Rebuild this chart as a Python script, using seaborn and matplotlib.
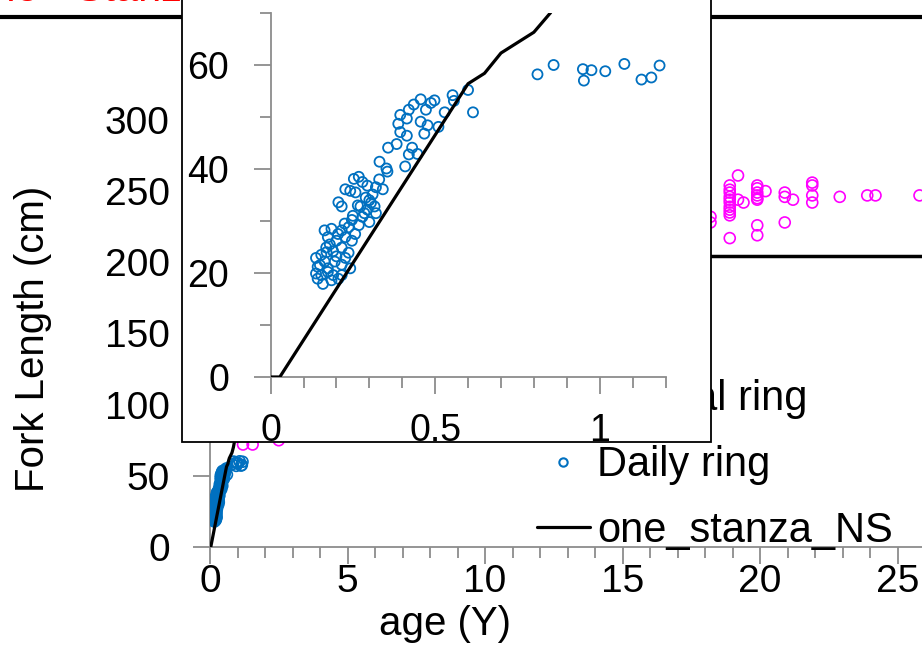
import numpy as np
import pandas as pd
import seaborn as sns
import matplotlib.pyplot as plt
from matplotlib.lines import Line2D
from matplotlib.patches import Rectangle
from matplotlib.ticker import MultipleLocator

sns.set_style("white")
plt.rcParams['font.family'] = ['Liberation Sans', 'DejaVu Sans']
plt.rcParams['text.color'] = 'black'
plt.rcParams['axes.labelcolor'] = 'black'

BLUE = "#0070C0"
MAG = "#FF00FF"
GRAY = "#8C8C8C"

# daily ring readings (age in years, fork length cm)
daily_age = [0.811, 0.860, 0.949, 0.952, 0.975, 1.017, 1.075, 1.127, 1.157, 1.182,
             0.600, 0.615, 0.553, 0.557, 0.529, 0.510, 0.498, 0.487, 0.456, 0.472,
             0.435, 0.420, 0.394, 0.414, 0.388, 0.456, 0.477, 0.467, 0.394, 0.414,
             0.383, 0.357, 0.430, 0.446, 0.420, 0.409, 0.331, 0.352, 0.355,
             0.268, 0.253, 0.227, 0.206, 0.216, 0.242, 0.258, 0.279, 0.294, 0.320,
             0.341, 0.310, 0.289, 0.305, 0.273, 0.294, 0.279, 0.300, 0.268, 0.247,
             0.237, 0.216, 0.257, 0.320, 0.316,
             0.164, 0.185, 0.174, 0.200, 0.227, 0.247, 0.169, 0.190, 0.216, 0.237,
             0.154, 0.138, 0.164, 0.195, 0.216, 0.143, 0.138, 0.154, 0.174, 0.190,
             0.216, 0.242, 0.143, 0.159, 0.185, 0.206, 0.174, 0.227, 0.200,
             0.180, 0.205, 0.225, 0.250, 0.265, 0.285, 0.300, 0.330, 0.150, 0.170]
daily_len = [58.2, 60.0, 59.2, 57.0, 59.0, 58.8, 60.2, 57.2, 57.6, 59.9,
             55.2, 50.9, 54.2, 53.1, 50.9, 48.1, 53.2, 52.7, 53.4, 51.4,
             52.4, 51.4, 50.4, 49.7, 48.7, 49.1, 48.4, 46.8, 47.1, 46.4,
             44.8, 44.1, 44.1, 42.9, 42.8, 40.5, 41.4, 40.1, 39.5,
             38.5, 38.1, 36.1, 33.6, 32.8, 35.8, 35.5, 37.5, 36.8, 36.5,
             36.1, 35.1, 34.5, 33.5, 32.8, 32.2, 30.8, 29.8, 29.2, 30.2,
             28.8, 28.2, 27.5, 31.5, 32.8,
             28.2, 28.5, 26.9, 26.2, 26.9, 26.2, 24.9, 24.2, 24.9, 23.9,
             23.5, 22.9, 22.2, 22.2, 21.6, 21.2, 19.9, 19.6, 20.2, 19.6,
             19.6, 20.9, 18.9, 17.9, 18.6, 18.9, 20.9, 22.9, 23.2,
             25.5, 27.5, 29.5, 31.0, 33.0, 31.5, 34.0, 38.0, 21.5, 24.0]

# annual ring readings
annual_age = [1.2, 1.55, 2.5, 18.2, 18.2,
              18.9, 18.9, 18.9, 18.9, 18.9, 18.9, 18.9, 18.9, 18.9, 18.9, 18.9,
              19.2, 19.2, 19.4,
              19.9, 19.9, 19.9, 19.9, 19.9, 19.9, 19.9, 19.9, 20.2,
              20.9, 20.9, 20.9, 21.2,
              21.9, 21.9, 21.9, 21.9,
              22.9, 23.9, 24.2, 25.8]
annual_len = [72, 72, 75, 232, 228,
              254, 251, 249, 246, 244, 242, 239, 237, 235, 233, 217,
              261, 244, 242,
              254, 252, 249, 247, 245, 244, 226, 219, 250,
              249, 246, 228, 244,
              256, 254, 247, 242,
              246, 247, 247, 247]

# one_stanza_NS curve
line_age = [0, 0.028, 0.6, 0.65, 0.7, 0.8, 0.85, 0.9, 1.0, 1.2]
line_len = [0, 0, 56.4, 58.4, 62.3, 66.3, 70.0, 75.0, 79.0, 86.0]

daily = pd.DataFrame({"age": daily_age, "fl": daily_len})
annual = pd.DataFrame({"age": annual_age, "fl": annual_len})
curve = pd.DataFrame({"age": line_age, "fl": line_len})

W, H = 922, 669
fig = plt.figure(figsize=(W / 100, H / 100), dpi=100)

# ---- main chart
ax = fig.add_axes([210 / W, 122 / H, 825 / W, 498.2 / H])
sns.scatterplot(data=annual, x="age", y="fl", ax=ax, s=62, facecolor="none",
                edgecolor=MAG, linewidth=1.2, zorder=3)
sns.scatterplot(data=daily, x="age", y="fl", ax=ax, s=62, facecolor="none",
                edgecolor=BLUE, linewidth=1.2, zorder=3)
sns.lineplot(data=curve, x="age", y="fl", ax=ax, color="black", linewidth=2.3,
             sort=False, estimator=None, zorder=4)
ax.set_xlim(0, 30)
ax.set_ylim(0, 350)
ax.set_yticks(np.arange(0, 301, 50))
ax.xaxis.set_major_locator(MultipleLocator(5))
ax.xaxis.set_minor_locator(MultipleLocator(1))
for s in ["top", "right"]:
    ax.spines[s].set_visible(False)
for s in ["left", "bottom"]:
    ax.spines[s].set_color(GRAY)
    ax.spines[s].set_linewidth(1.3)
ax.tick_params(axis="both", which="major", direction="out", length=12, width=1.3,
               color=GRAY, labelcolor="black", labelsize=28, left=True, bottom=True)
ax.tick_params(axis="x", which="minor", direction="out", length=8, width=1.3,
               color=GRAY, bottom=True)
ax.tick_params(axis="x", which="major", pad=0)
ax.tick_params(axis="y", which="major", pad=17)
ax.set_xlabel("")
ax.set_ylabel("")
fig.text(33 / W, 1 - 339 / H, "Fork Length (cm)", rotation=90, ha="center",
         va="center", fontsize=29)
fig.text(445 / W, 1 - 624 / H, "age (Y)", ha="center", va="center", fontsize=29)

handles = [Line2D([], [], marker="o", ls="none", mfc="none", mec=MAG, ms=6, mew=1.5),
           Line2D([], [], marker="o", ls="none", mfc="none", mec=BLUE, ms=6, mew=1.5),
           Line2D([], [], color="black", lw=2.3)]
ax.legend(handles, ["Annual ring", "Daily ring", "one_stanza_NS"], loc="lower left",
          bbox_to_anchor=(537 / W, 118 / H), bbox_transform=fig.transFigure,
          frameon=False, fontsize=30, handlelength=1.27, handletextpad=0.17,
          labelspacing=0.62, borderpad=0, borderaxespad=0)

# title (mostly cut off by the top edge, hidden behind the inset) and frame lines
fig.text(-40 / W, 1 - 1 / H, "One - Stanza model fitted to NS data set", ha="left",
         va="baseline", color="red", fontsize=30, zorder=1)
fig.add_artist(Line2D([0, 1], [1 - 17 / H, 1 - 17 / H], transform=fig.transFigure,
                      color="black", lw=3, zorder=1))
fig.add_artist(Line2D([500 / W, 1], [1 - 256 / H, 1 - 256 / H], transform=fig.transFigure,
                      color="black", lw=2.5, zorder=1))

# ---- inset
fig.add_artist(Rectangle((182 / W, 227 / H), 529 / W, 1.2, transform=fig.transFigure,
                         facecolor="white", edgecolor="black", lw=1.3, zorder=2))
ins = fig.add_axes([270.6 / W, 292 / H, 394.9 / W, 364 / H], zorder=3)
ins.patch.set_alpha(0)
sns.scatterplot(data=daily, x="age", y="fl", ax=ins, s=52, facecolor="none",
                edgecolor=BLUE, linewidth=1.3, zorder=3)
sns.lineplot(data=curve, x="age", y="fl", ax=ins, color="black", linewidth=2.3,
             sort=False, estimator=None, zorder=4)
ins.set_xlim(0, 1.2)
ins.set_ylim(0, 70)
ins.set_xticks([0, 0.5, 1])
ins.set_xticklabels(["0", "0.5", "1"])
ins.xaxis.set_minor_locator(MultipleLocator(0.1))
ins.set_yticks([0, 20, 40, 60])
ins.yaxis.set_minor_locator(MultipleLocator(10))
for s in ["top", "right"]:
    ins.spines[s].set_visible(False)
for s in ["left", "bottom"]:
    ins.spines[s].set_color(GRAY)
    ins.spines[s].set_linewidth(1.3)
ins.tick_params(axis="both", which="major", direction="out", length=12, width=1.3,
                color=GRAY, labelcolor="black", labelsize=27, left=True, bottom=True)
ins.tick_params(axis="both", which="minor", direction="out", length=8, width=1.3,
                color=GRAY, left=True, bottom=True)
ins.tick_params(axis="x", which="major", pad=14)
ins.tick_params(axis="y", which="major", pad=18)
ins.set_xlabel("")
ins.set_ylabel("")
if ins.get_legend():
    ins.get_legend().remove()

fig.savefig("out.png", dpi=100)
